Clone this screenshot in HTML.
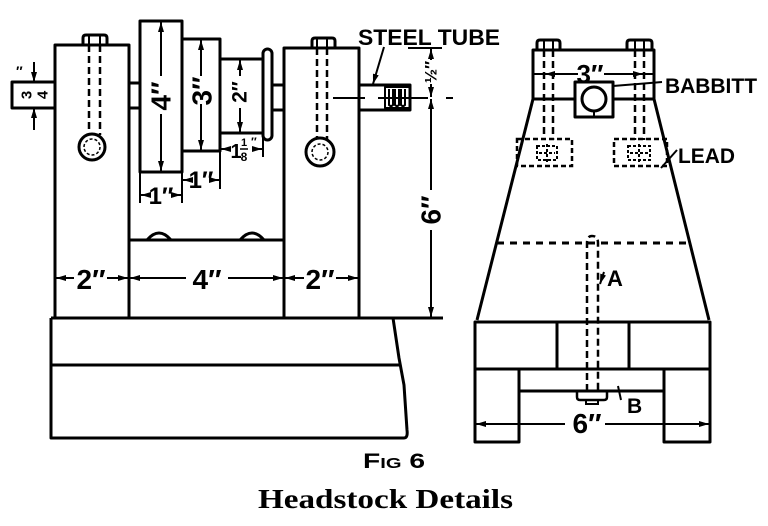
<!DOCTYPE html>
<html><head><meta charset="utf-8"><style>
html,body{margin:0;padding:0;background:#fff;}
svg{display:block;}
text{font-family:"Liberation Sans",sans-serif;font-weight:bold;fill:#000;}
</style></head><body>
<svg width="768" height="526" viewBox="0 0 768 526" xmlns="http://www.w3.org/2000/svg">
<defs>
<marker id="a" viewBox="0 0 10 6" refX="10" refY="3" markerWidth="10" markerHeight="6" markerUnits="userSpaceOnUse" orient="auto-start-reverse"><path d="M0,0 L10,3 L0,6 z" fill="#000"/></marker>
</defs>
<rect width="768" height="526" fill="#fff"/>

<!-- ===== LEFT VIEW ===== -->
<g fill="none" stroke="#000" stroke-width="3" stroke-linejoin="round">
  <rect x="55" y="45" width="74" height="273"/>
  <path d="M83,45 V38 Q83,35 86,35 H104 Q107,35 107,38 V45"/>
  <circle cx="92" cy="147" r="13"/>
  <rect x="12" y="82" width="43" height="26"/>
  <path d="M129,83 H140 M129,108 H140"/>
  <rect x="140" y="21" width="42" height="151"/>
  <rect x="182" y="39" width="38" height="112"/>
  <rect x="220" y="59" width="43" height="74"/>
  <rect x="263" y="49" width="9" height="91" rx="4.5"/>
  <path d="M272,85 H285 M272,110 H285"/>
  <rect x="284" y="48" width="75" height="270"/>
  <path d="M312,48 V41 Q312,38 315,38 H332 Q335,38 335,41 V48"/>
  <circle cx="320" cy="152" r="14"/>
  <rect x="359" y="85" width="51" height="25"/>
  <rect x="385" y="87" width="25" height="21" stroke-width="2"/>
  <path d="M129,240 H284"/>
  <path d="M147,240 Q159,226 171,240 M240,240 Q252,226 264,240"/>
  <path d="M51,318 H443"/>
  <path d="M51,318 V438 H404 Q408,438 407,430 L404,385 L399,358 L393,318"/>
  <path d="M51,365 H401"/>
</g>
<g fill="none" stroke="#000" stroke-width="2">
  <path d="M89,36 V45 M100,36 V45 M317,39 V48 M327,39 V48"/>
  <path d="M89,45 V135 M100,45 V135 M317,48 V139 M327,48 V139" stroke-width="2.5" stroke-dasharray="7,4"/>
  <circle cx="92" cy="147" r="8" stroke-width="1.5" stroke-dasharray="3,2"/>
  <circle cx="320" cy="152" r="8" stroke-width="1.5" stroke-dasharray="3,2"/>
  <!-- threads -->
  <path d="M389,89 V105 Q391,107 393,105 V89 M395,89 V105 Q397,107 399,105 V89 M401,89 V105 Q403,107 405,105 V89"/>
  <!-- center line -->
  <path d="M333,98 H365 M378,98 H428 M446,98 H453"/>
  <!-- leader steel tube -->
  <line x1="384" y1="47" x2="373" y2="84" marker-end="url(#a)"/>
  <!-- stub dims -->
  <line x1="34" y1="62" x2="34" y2="82" marker-end="url(#a)"/>
  <line x1="34" y1="130" x2="34" y2="108" marker-end="url(#a)"/>
  <!-- pulley height dims -->
  <line x1="161" y1="76" x2="161" y2="22" marker-end="url(#a)"/>
  <line x1="161" y1="114" x2="161" y2="171" marker-end="url(#a)"/>
  <line x1="201" y1="76" x2="201" y2="40" marker-end="url(#a)"/>
  <line x1="201" y1="104" x2="201" y2="150" marker-end="url(#a)"/>
  <line x1="240" y1="76" x2="240" y2="60" marker-end="url(#a)"/>
  <line x1="240" y1="108" x2="240" y2="132" marker-end="url(#a)"/>
  <!-- extension lines -->
  <path d="M140,172 V203 M182,172 V203 M220,151 V189 M263,133 V157"/>
  <line x1="150" y1="195" x2="141" y2="195" marker-end="url(#a)"/>
  <line x1="171" y1="195" x2="181" y2="195" marker-end="url(#a)"/>
  <line x1="192" y1="180" x2="183" y2="180" marker-end="url(#a)"/>
  <line x1="210" y1="180" x2="219" y2="180" marker-end="url(#a)"/>
  <line x1="231" y1="149" x2="221" y2="149" marker-end="url(#a)"/>
  <line x1="252" y1="149" x2="262" y2="149" marker-end="url(#a)"/>
  <!-- right side vertical dims -->
  <path d="M408,48 H442"/>
  <line x1="431" y1="60" x2="431" y2="49" marker-end="url(#a)"/>
  <line x1="431" y1="84" x2="431" y2="97" marker-end="url(#a)"/>
  <line x1="431" y1="190" x2="431" y2="99" marker-end="url(#a)"/>
  <line x1="431" y1="230" x2="431" y2="317" marker-end="url(#a)"/>
  <!-- horizontal dims y=278 -->
  <line x1="74" y1="278" x2="56" y2="278" marker-end="url(#a)"/>
  <line x1="107" y1="278" x2="128" y2="278" marker-end="url(#a)"/>
  <line x1="186" y1="278" x2="130" y2="278" marker-end="url(#a)"/>
  <line x1="228" y1="278" x2="283" y2="278" marker-end="url(#a)"/>
  <line x1="304" y1="278" x2="285" y2="278" marker-end="url(#a)"/>
  <line x1="336" y1="278" x2="358" y2="278" marker-end="url(#a)"/>
</g>
<!-- left view text -->
<text x="16" y="76" font-size="14">″</text>
<text transform="translate(27,95) rotate(-90)" font-size="15" text-anchor="middle" dominant-baseline="central">3</text>
<text transform="translate(43,95) rotate(-90)" font-size="15" text-anchor="middle" dominant-baseline="central">4</text>
<text transform="translate(161,96) rotate(-90)" font-size="28" text-anchor="middle" dominant-baseline="central">4″</text>
<text transform="translate(202,91) rotate(-90)" font-size="28" text-anchor="middle" dominant-baseline="central">3″</text>
<text transform="translate(240,92) rotate(-90)" font-size="21" text-anchor="middle" dominant-baseline="central">2″</text>
<text x="161" y="204" font-size="24" text-anchor="middle">1″</text>
<text x="201" y="188" font-size="24" text-anchor="middle">1″</text>
<text x="236" y="158" font-size="20" text-anchor="middle">1</text>
<text x="244" y="146" font-size="11" text-anchor="middle">1</text>
<line x1="240" y1="149" x2="248" y2="149" stroke="#000" stroke-width="1.5"/>
<text x="244" y="161" font-size="12" text-anchor="middle">8</text>
<text x="251" y="146" font-size="12">″</text>
<text transform="translate(431,72) rotate(-90)" font-size="17" text-anchor="middle" dominant-baseline="central">½″</text>
<text transform="translate(431,210) rotate(-90)" font-size="28" text-anchor="middle" dominant-baseline="central">6″</text>
<text x="91" y="289" font-size="28" text-anchor="middle">2″</text>
<text x="207" y="289" font-size="28" text-anchor="middle">4″</text>
<text x="320" y="289" font-size="28" text-anchor="middle">2″</text>
<text x="358" y="45" font-size="22" textLength="142" lengthAdjust="spacingAndGlyphs">STEEL TUBE</text>

<!-- ===== RIGHT VIEW ===== -->
<g fill="none" stroke="#000" stroke-width="3" stroke-linejoin="round">
  <path d="M533,99 V50 H654 V99"/>
  <path d="M533,99 H575 M613,99 H654"/>
  <path d="M537,50 V43 Q537,40 540,40 H557 Q560,40 560,43 V50"/>
  <path d="M627,50 V43 Q627,40 630,40 H649 Q652,40 652,43 V50"/>
  <rect x="575" y="82" width="38" height="35"/>
  <circle cx="594" cy="99" r="12"/>
  <path d="M533,99 L477,320 M654,99 L709,320"/>
  <rect x="475" y="322" width="235" height="47"/>
  <path d="M557,322 V369 M629,322 V369"/>
  <rect x="475" y="369" width="44" height="73"/>
  <rect x="664" y="369" width="46" height="73"/>
  <path d="M519,391 H664"/>
</g>
<g fill="none" stroke="#000" stroke-width="2">
  <path d="M544,41 V50 M553,41 V50 M635,41 V50 M644,41 V50"/>
  <path d="M544,50 V140 M553,50 V140 M635,50 V140 M644,50 V140" stroke-width="2.5" stroke-dasharray="7,4"/>
  <path d="M533,74 H544 M644,74 H654"/>
  <line x1="578" y1="74" x2="545" y2="74" marker-end="url(#a)"/>
  <line x1="604" y1="74" x2="643" y2="74" marker-end="url(#a)"/>
  <path d="M594,111 V117"/>
  <path d="M613,86 L662,82"/>
  <rect x="517" y="139" width="55" height="27" stroke-width="2.5" stroke-dasharray="5,3"/>
  <rect x="614" y="139" width="53" height="27" stroke-width="2.5" stroke-dasharray="5,3"/>
  <path d="M537,146 H557 V160 H537 Z M547,144 V162 M539,153 H555" stroke-dasharray="3,2"/>
  <path d="M628,146 H650 V160 H628 Z M639,144 V162 M630,153 H648" stroke-dasharray="3,2"/>
  <path d="M661,168 L677,150"/>
  <path d="M497,243 H686" stroke-width="3" stroke-dasharray="7,6"/>
  <path d="M587,391 V243 Q587,236 592,236 Q598,236 598,243 V391" stroke-width="2.5" stroke-dasharray="7,4"/>
  <line x1="604" y1="272" x2="600" y2="284" marker-end="url(#a)"/>
  <path d="M577,391 V397 Q577,400 580,400 H604 Q607,400 607,397 V391" stroke-width="2.5"/>
  <path d="M586,400 V404 H598 V400"/>
  <path d="M618,386 L621,400"/>
  <line x1="565" y1="424" x2="476" y2="424" marker-end="url(#a)"/>
  <line x1="605" y1="424" x2="709" y2="424" marker-end="url(#a)"/>
</g>
<text x="590" y="83" font-size="26" text-anchor="middle">3″</text>
<text x="665" y="93" font-size="21" textLength="92" lengthAdjust="spacingAndGlyphs">BABBITT</text>
<text x="678" y="163" font-size="21" textLength="57" lengthAdjust="spacingAndGlyphs">LEAD</text>
<text x="607" y="286" font-size="22">A</text>
<text x="627" y="413" font-size="21">B</text>
<text x="587" y="433" font-size="28" text-anchor="middle">6″</text>

<!-- captions -->
<text x="363" y="468" font-size="21" textLength="62" lengthAdjust="spacingAndGlyphs">F<tspan font-size="15">IG</tspan> 6</text>
<text x="258" y="508" font-size="27" textLength="255" lengthAdjust="spacingAndGlyphs" style="font-family:'Liberation Serif',serif;font-weight:bold;">Headstock  Details</text>
</svg>
</body></html>
